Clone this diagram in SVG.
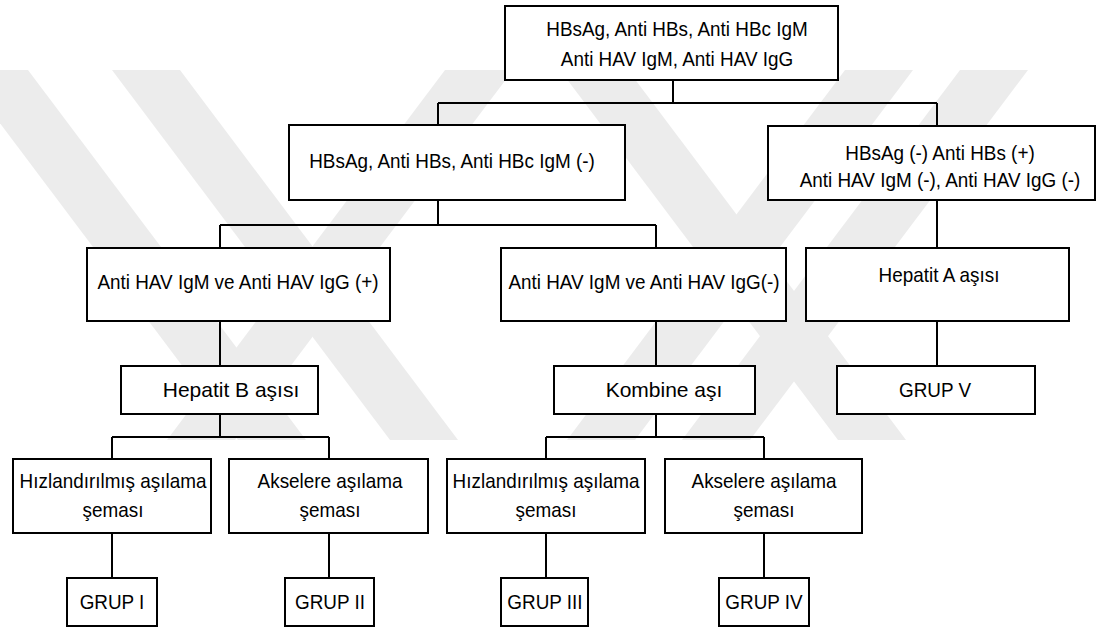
<svg xmlns="http://www.w3.org/2000/svg" width="1109" height="628" viewBox="0 0 1109 628">
<style>
.wm{fill:#ececec;}
.box{fill:#fff;stroke:#000;stroke-width:2;}
.conn path{fill:none;stroke:#000;stroke-width:2;}
.t{font-family:"Liberation Sans",Arial,sans-serif;font-size:21px;fill:#000;text-anchor:middle;transform-box:fill-box;transform-origin:center;transform:scaleX(0.9);}
.t.w{transform:none;}
</style>
<rect width="1109" height="628" fill="#fff"/>
<g id="watermark">
<polygon class="wm" points="-40,70 28,70 306,440 238,440"/>
<polygon class="wm" points="112,70 180,70 458,440 390,440"/>
<polygon class="wm" points="445,70 513,70 235,440 167,440"/>
<polygon class="wm" points="560,70 628,70 906,440 838,440"/>
<polygon class="wm" points="845,70 913,70 635,440 567,440"/>
<polygon class="wm" points="960,70 1028,70 750,440 682,440"/>
</g>
<g class="conn" id="connectors">
<path d="M673,80V103M438,103H937M438,103V125M937,103V126"/>
<path d="M438,200V225M220,225H656M220,225V248M656,225V248M937,200V248"/>
<path d="M220,321V366M656,321V366M937,321V366"/>
<path d="M220,414V437M112,437H329M112,437V459M329,437V459"/>
<path d="M656,414V437M546,437H764M546,437V459M764,437V459"/>
<path d="M112,533V578M329,533V578M546,533V578M764,533V578"/>
</g>
<g id="n-top"><rect class="box" x="505" y="6" width="333" height="74"/><text class="t" x="677" y="36.5">HBsAg, Anti HBs, Anti HBc IgM</text><text class="t" x="677" y="66">Anti HAV IgM, Anti HAV IgG</text></g>
<g id="n-neg"><rect class="box" x="289" y="125" width="336" height="75"/><text class="t" x="452" y="168">HBsAg, Anti HBs, Anti HBc IgM (-)</text></g>
<g id="n-immune"><rect class="box" x="768" y="126" width="327" height="74"/><text class="t" x="940" y="160">HBsAg (-) Anti HBs (+)</text><text class="t" x="940" y="187">Anti HAV IgM (-), Anti HAV IgG (-)</text></g>
<g id="n-havpos"><rect class="box" x="87" y="248" width="303" height="73"/><text class="t" x="238" y="289">Anti HAV IgM ve Anti HAV IgG (+)</text></g>
<g id="n-havneg"><rect class="box" x="501" y="248" width="285" height="73"/><text class="t" x="644" y="289">Anti HAV IgM ve Anti HAV IgG(-)</text></g>
<g id="n-hepa"><rect class="box" x="806" y="248" width="263" height="73"/><text class="t" x="939" y="282">Hepatit A aşısı</text></g>
<g id="n-hepb"><rect class="box" x="121" y="366" width="197" height="48"/><text class="t w" x="231" y="397">Hepatit B aşısı</text></g>
<g id="n-kombine"><rect class="box" x="554" y="366" width="201" height="48"/><text class="t w" x="664" y="397">Kombine aşı</text></g>
<g id="n-grup5"><rect class="box" x="837" y="366" width="198" height="48"/><text class="t" x="935" y="397">GRUP V</text></g>
<g id="n-hiz1"><rect class="box" x="13" y="459" width="198" height="74"/><text class="t" x="113" y="488">Hızlandırılmış aşılama</text><text class="t" x="113" y="517">şeması</text></g>
<g id="n-aks1"><rect class="box" x="229" y="459" width="199" height="74"/><text class="t" x="330" y="488">Akselere aşılama</text><text class="t" x="330" y="517">şeması</text></g>
<g id="n-hiz2"><rect class="box" x="447" y="459" width="198" height="74"/><text class="t" x="546" y="488">Hızlandırılmış aşılama</text><text class="t" x="546" y="517">şeması</text></g>
<g id="n-aks2"><rect class="box" x="665" y="459" width="197" height="74"/><text class="t" x="764" y="488">Akselere aşılama</text><text class="t" x="764" y="517">şeması</text></g>
<g id="n-grup1"><rect class="box" x="67" y="578" width="90" height="48"/><text class="t" x="112" y="609">GRUP I</text></g>
<g id="n-grup2"><rect class="box" x="285" y="578" width="89" height="48"/><text class="t" x="330" y="609">GRUP II</text></g>
<g id="n-grup3"><rect class="box" x="501" y="578" width="87" height="48"/><text class="t" x="545" y="609">GRUP III</text></g>
<g id="n-grup4"><rect class="box" x="719" y="578" width="90" height="48"/><text class="t" x="764" y="609">GRUP IV</text></g>
</svg>
